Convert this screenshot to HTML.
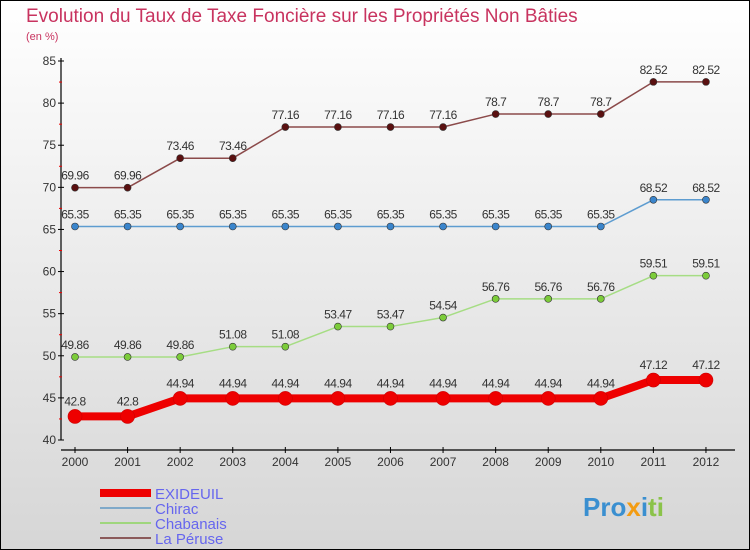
<!DOCTYPE html>
<html><head><meta charset="utf-8"><style>
body{margin:0}
svg{display:block;font-family:"Liberation Sans",sans-serif}
</style></head><body>
<svg width="750" height="550" xmlns="http://www.w3.org/2000/svg">
<defs><linearGradient id="bg" x1="0" y1="0" x2="0" y2="1"><stop offset="0" stop-color="#ffffff"/><stop offset="1" stop-color="#d6d6d6"/></linearGradient></defs>
<rect x="0.5" y="0.5" width="749" height="549" fill="url(#bg)" stroke="#000"/>
<text x="26" y="22" font-size="19" fill="#c8335f">Evolution du Taux de Taxe Foncière sur les Propriétés Non Bâties</text>
<text x="26" y="40" font-size="11" fill="#c8335f">(en %)</text>
<g id="axes"></g>
<g id="series"></g>
<g id="legend"></g>
<text x="583" y="516" font-size="26" font-weight="bold" fill="#3a8fd0">Pro<tspan fill="#f39c12">x</tspan><tspan fill="#3a8fd0">i</tspan><tspan fill="#8bc34a">ti</tspan></text>
</svg>
<script>
const years=[2000,2001,2002,2003,2004,2005,2006,2007,2008,2009,2010,2011,2012];
const exideuil=[42.8,42.8,44.94,44.94,44.94,44.94,44.94,44.94,44.94,44.94,44.94,47.12,47.12];
const chirac=[65.35,65.35,65.35,65.35,65.35,65.35,65.35,65.35,65.35,65.35,65.35,68.52,68.52];
const chabanais=[49.86,49.86,49.86,51.08,51.08,53.47,53.47,54.54,56.76,56.76,56.76,59.51,59.51];
const laPeruse=[69.96,69.96,73.46,73.46,77.16,77.16,77.16,77.16,78.7,78.7,78.7,82.52,82.52];
const yTicks=[40,45,50,55,60,65,70,75,80,85];
const NS="http://www.w3.org/2000/svg";
const xs=i=>75+i*52.58;
const ys=v=>440-(v-40)*(379/45);
function mk(tag,attrs,parent){const e=document.createElementNS(NS,tag);for(const k in attrs)e.setAttribute(k,attrs[k]);parent.appendChild(e);return e;}
const axes=document.getElementById('axes');
let yl=mk('line',{x1:61,y1:58,x2:61,y2:440,stroke:'#000','stroke-width':1.2},axes);


let xl=mk('line',{x1:61,y1:450,x2:735,y2:450,stroke:'#000','stroke-width':1.2},axes);


yTicks.forEach(v=>{
  mk('line',{x1:58,y1:ys(v),x2:64,y2:ys(v),stroke:'#000'},axes);
  if(v<85)mk('line',{x1:59,y1:ys(v+2.5),x2:62,y2:ys(v+2.5),stroke:'#e00'},axes);
  const t=mk('text',{x:56,y:ys(v)+4,'font-size':12,'text-anchor':'end',fill:'#333'},axes);
  t.textContent=v;
  
  
});
years.forEach((y,i)=>{
  mk('line',{x1:xs(i),y1:447,x2:xs(i),y2:453,stroke:'#000'},axes);
  const t=mk('text',{x:xs(i),y:466,'font-size':12,'text-anchor':'middle',fill:'#333'},axes);
  t.textContent=y;
  
  
});
const ser=document.getElementById('series');
const defs=[
 {d:laPeruse,c:'#8b4a4a',dot:'#5a1010',w:1.5,r:3.5,name:'la-peruse'},
 {d:chirac,c:'#5d9cd0',dot:'#3a85cc',w:1.5,r:3.5,name:'chirac'},
 {d:chabanais,c:'#a6dd84',dot:'#7ccc3a',w:1.5,r:3.5,name:'chabanais'},
 {d:exideuil,c:'#ee0000',dot:'#ee0000',w:8,r:7,name:'exideuil'}
];
defs.forEach(s=>{
  const pts=s.d.map((v,i)=>xs(i)+','+ys(v)).join(' ');
  const pl=mk('polyline',{points:pts,fill:'none',stroke:s.c,'stroke-width':s.w,'stroke-linejoin':'round'},ser);
  
  
  s.d.forEach((v,i)=>{
    const c=mk('circle',{cx:xs(i),cy:ys(v),r:s.r,fill:s.dot,stroke:s.r>5?'#c00':'#333','stroke-width':0.6},ser);
    
    
    const t=mk('text',{x:xs(i),y:ys(v)-(s.r>5?11:8),'font-size':12,'text-anchor':'middle',fill:'#333','letter-spacing':'-0.5'},ser);
    t.textContent=v;
    
    
  });
});
const lg=document.getElementById('legend');
const items=[['EXIDEUIL','#ee0000',8,493],['Chirac','#7fa9c9',2,508],['Chabanais','#9fd67d',2,523],['La Péruse','#8b5a5a',2,538]];
items.forEach(it=>{
  const l=mk('line',{x1:100,y1:it[3],x2:151,y2:it[3],stroke:it[1],'stroke-width':it[2]},lg);
  
  
  const t=mk('text',{x:155,y:it[3]+6,'font-size':15,fill:'#6666ee'},lg);
  t.textContent=it[0];
  
  
});
</script>
</body></html>
